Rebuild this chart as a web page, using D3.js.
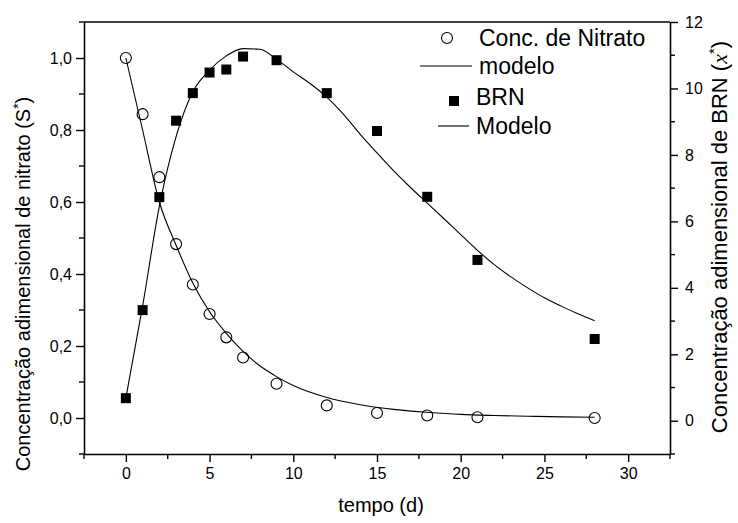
<!DOCTYPE html>
<html><head><meta charset="utf-8">
<script src="https://cdn.jsdelivr.net/npm/d3@7"></script>
<style>
body{margin:0;background:#fff;}
svg{display:block;font-family:"Liberation Sans",Arial,sans-serif;}
</style></head>
<body><svg id="c" width="738" height="523"></svg>
<script>
// Data
const tObs = [0,1,2,3,4,5,6,7,9,12,15,18,21,28];
const nitrato = [1.0,0.844,0.669,0.483,0.371,0.289,0.224,0.168,0.095,0.035,0.014,0.007,0.002,0.0];
const brn = [0.68,3.33,6.73,9.03,9.86,10.48,10.57,10.96,10.85,9.86,8.72,6.74,4.84,2.46];
const tNitModel = [0,1,2,3,4,5,6,7,8,9,10,12,14,16,18,20,22,24,26,28];
const nitratoModelo = [1.0,0.80,0.60,0.48,0.375,0.295,0.235,0.185,0.145,0.115,0.09,0.057,0.037,0.024,0.016,0.010,0.007,0.005,0.003,0.002];
const tBrnModel = [0,1,2,3,4,5,6,7,8,9,10,11,12,13,14,15,16,17,18,19,20,21,22,23,24,25,26,27,28];
const brnModelo = [0.68,3.45,6.45,8.55,9.9,10.55,10.98,11.2,11.18,10.88,10.5,10.15,9.74,9.22,8.62,8.06,7.52,7.02,6.55,6.08,5.6,5.13,4.7,4.33,4.0,3.7,3.45,3.22,3.01];
const xTicks = [0,5,10,15,20,25,30];
const yLeftTicks = [0,0.2,0.4,0.6,0.8,1.0];
const yRightTicks = [0,2,4,6,8,10,12];
const legendLabels = ["Conc. de Nitrato","modelo","BRN","Modelo"];

const svg = d3.select("#c");
const L=84, R=670, T=22, B=454;
const x = d3.scaleLinear().domain([-2.5,32.5]).range([L,R]);
const yL = d3.scaleLinear().domain([-0.1,1.1]).range([B,T]);
const yR = d3.scaleLinear().domain([-1,12]).range([B,T]);
const fmt = d => d3.format(".1f")(d).replace(".",",");

svg.append("line").attr("x1",L).attr("x2",R).attr("y1",T).attr("y2",T).attr("stroke","#000").attr("stroke-width",1.6);

function styleAxis(g){
  g.select(".domain").attr("stroke-width",1.6);
  g.selectAll(".tick line").attr("stroke-width",1.4);
  g.selectAll("text").attr("font-size",16).attr("fill","#000").attr("font-family","Liberation Sans, Arial, sans-serif");
}
const xMinor = d3.range(-2.5,32.51,2.5).filter(v=>Math.abs(v%5)>0.01);
const yLMinor = d3.range(-0.1,1.101,0.2);
const yRMinor = d3.range(-1,12.01,2);

const gx = svg.append("g").attr("transform",`translate(0,${B})`)
  .call(d3.axisBottom(x).tickValues(xTicks).tickSize(8).tickPadding(6).tickSizeOuter(0));
styleAxis(gx);
gx.selectAll(".minor").data(xMinor).enter().append("line")
  .attr("x1",d=>x(d)).attr("x2",d=>x(d)).attr("y1",0).attr("y2",5).attr("stroke","#000").attr("stroke-width",1.4);

const gl = svg.append("g").attr("transform",`translate(${L},0)`)
  .call(d3.axisLeft(yL).tickValues(yLeftTicks).tickFormat(fmt).tickSize(8).tickPadding(4).tickSizeOuter(0));
styleAxis(gl);
gl.selectAll(".minor").data(yLMinor).enter().append("line")
  .attr("y1",d=>yL(d)).attr("y2",d=>yL(d)).attr("x1",0).attr("x2",-5).attr("stroke","#000").attr("stroke-width",1.4);

const gr = svg.append("g").attr("transform",`translate(${R},0)`)
  .call(d3.axisRight(yR).tickValues(yRightTicks).tickSize(8).tickPadding(7).tickSizeOuter(0));
styleAxis(gr);
gr.selectAll(".minor").data(yRMinor).enter().append("line")
  .attr("y1",d=>yR(d)).attr("y2",d=>yR(d)).attr("x1",0).attr("x2",5).attr("stroke","#000").attr("stroke-width",1.4);

// axis titles
svg.append("text").attr("x",(L+R)/2+4).attr("y",512).attr("text-anchor","middle").attr("font-size",20).text("tempo (d)");
const lt = svg.append("text").attr("transform",`translate(30,284) rotate(-90)`).attr("text-anchor","middle").attr("font-size",20);
lt.append("tspan").text("Concentração adimensional de nitrato (S");
lt.append("tspan").attr("dy",-7).attr("font-size",14).text("*");
lt.append("tspan").attr("dy",7).text(")");
const rt = svg.append("text").attr("transform",`translate(727,237) rotate(-90)`).attr("text-anchor","middle").attr("font-size",22);
rt.append("tspan").text("Concentração adimensional de BRN (");
rt.append("tspan").attr("font-family","Liberation Serif, serif").attr("font-style","italic").text("x");
rt.append("tspan").attr("dy",-8).attr("font-size",15).text("*");
rt.append("tspan").attr("dy",8).text(")");

// model lines
const lineL = d3.line().x((d,i)=>x(tNitModel[i])).y(d=>yL(d)).curve(d3.curveMonotoneX);
const lineR = d3.line().x((d,i)=>x(tBrnModel[i])).y(d=>yR(d)).curve(d3.curveMonotoneX);
svg.append("path").attr("d",lineL(nitratoModelo)).attr("fill","none").attr("stroke","#000").attr("stroke-width",1.1);
svg.append("path").attr("d",lineR(brnModelo)).attr("fill","none").attr("stroke","#000").attr("stroke-width",1.1);

// points
svg.selectAll(".circ").data(nitrato).enter().append("circle")
  .attr("cx",(d,i)=>x(tObs[i])).attr("cy",d=>yL(d)).attr("r",5.5)
  .attr("fill","none").attr("stroke","#000").attr("stroke-width",1.1);
svg.selectAll(".sq").data(brn).enter().append("rect")
  .attr("x",(d,i)=>x(tObs[i])-5).attr("y",d=>yR(d)-5).attr("width",10).attr("height",10).attr("fill","#000");

// legend
const lg = svg.append("g");
lg.append("circle").attr("cx",447).attr("cy",38).attr("r",5.5).attr("fill","none").attr("stroke","#000").attr("stroke-width",1.1);
lg.append("text").attr("x",479).attr("y",46).attr("font-size",23).text(legendLabels[0]);
lg.append("line").attr("x1",420).attr("x2",472).attr("y1",66).attr("y2",66).attr("stroke","#000").attr("stroke-width",1.1);
lg.append("text").attr("x",479).attr("y",74).attr("font-size",23).text(legendLabels[1]);
lg.append("rect").attr("x",449).attr("y",96).attr("width",10).attr("height",10).attr("fill","#000");
lg.append("text").attr("x",476).attr("y",105).attr("font-size",23).text(legendLabels[2]);
lg.append("line").attr("x1",438).attr("x2",469).attr("y1",126).attr("y2",126).attr("stroke","#000").attr("stroke-width",1.1);
lg.append("text").attr("x",476).attr("y",134).attr("font-size",23).text(legendLabels[3]);
</script></body></html>
